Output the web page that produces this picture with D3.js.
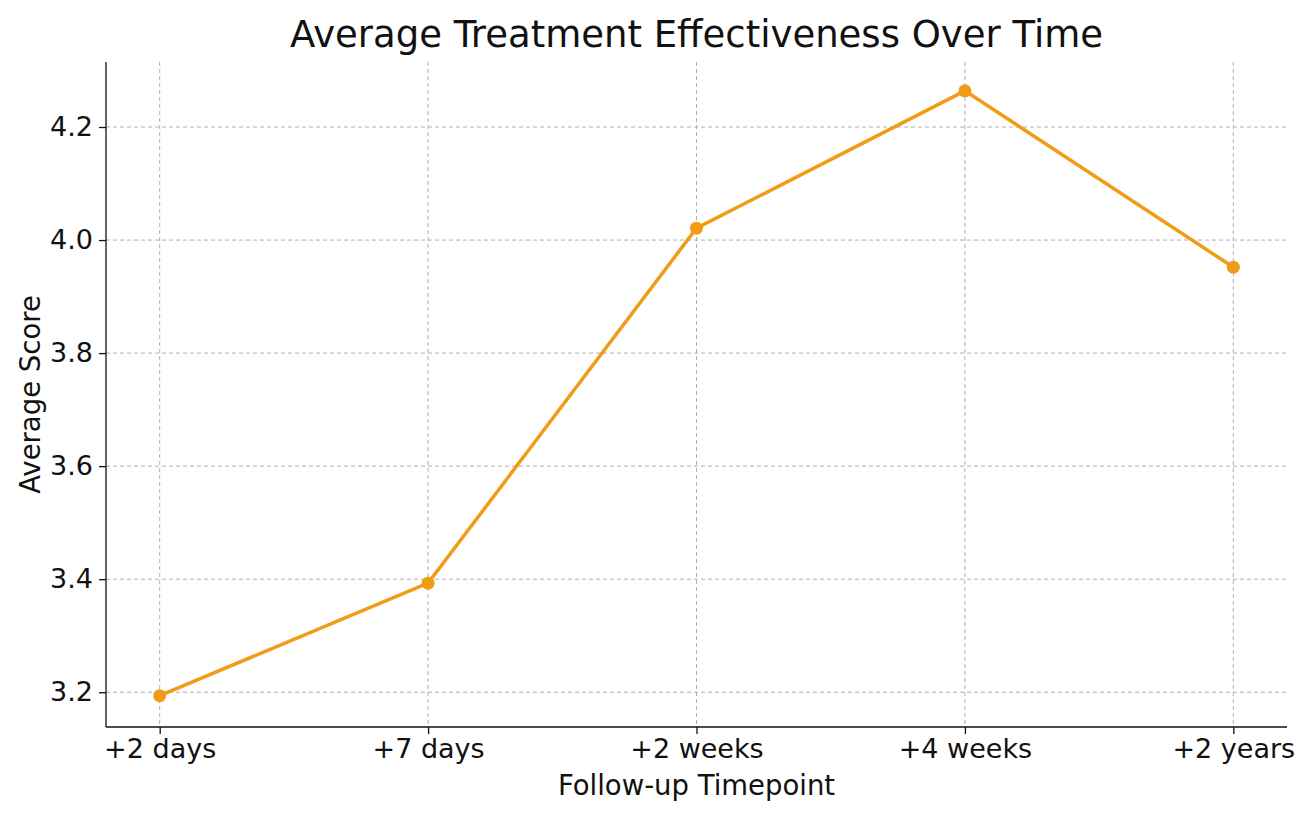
<!DOCTYPE html>
<html><head><meta charset="utf-8">
<script src="https://cdn.jsdelivr.net/npm/d3@7"></script>
<style>body{margin:0;background:#fff}svg{font-family:"DejaVu Sans",sans-serif}</style>
</head><body><svg width="1308" height="816"></svg>
<script>
const categories=["+2 days","+7 days","+2 weeks","+4 weeks","+2 years"];
const values=[3.194,3.393,4.021,4.264,3.952];
const yTicks=[3.2,3.4,3.6,3.8,4.0,4.2];
const svg=d3.select("svg");
const L=106,R=1287,T=62,B=727;
const x=d3.scalePoint().domain(categories).range([L,R]).padding(0.2);
const y=d3.scaleLinear().domain([3.1385,4.315]).range([B,T]);
const g=svg.append("g");
g.selectAll(".gx").data(categories).join("line").attr("x1",d=>x(d)).attr("x2",d=>x(d)).attr("y1",T).attr("y2",B)
 .attr("stroke","#b0b0b0").attr("stroke-dasharray","4,3").attr("stroke-width",1);
g.selectAll(".gy").data(yTicks).join("line").attr("y1",d=>y(d)).attr("y2",d=>y(d)).attr("x1",L).attr("x2",R)
 .attr("stroke","#b0b0b0").attr("stroke-dasharray","4,3").attr("stroke-width",1);
const xa=svg.append("g").attr("transform",`translate(0,${B})`).call(d3.axisBottom(x).tickSizeOuter(0).tickSize(7).tickPadding(5));
const ya=svg.append("g").attr("transform",`translate(${L},0)`).call(d3.axisLeft(y).tickValues(yTicks).tickFormat(d3.format(".1f")).tickSizeOuter(0).tickSize(7).tickPadding(6));
[xa,ya].forEach(a=>{a.selectAll("text").attr("font-size",27).attr("fill","#111").attr("font-family","DejaVu Sans");a.selectAll("line,path").attr("stroke","#111").attr("stroke-width",1.3);});
xa.select(".domain").attr("d",`M${L},0H${R}`);
ya.select(".domain").attr("d",`M0,${T}V${B}`);
const line=d3.line().x((d,i)=>x(categories[i])).y(d=>y(d));
svg.append("path").datum(values).attr("d",line).attr("fill","none").attr("stroke","#f09c16").attr("stroke-width",3.5);
svg.selectAll(".pt").data(values).join("circle").attr("cx",(d,i)=>x(categories[i])).attr("cy",d=>y(d)).attr("r",6.5).attr("fill","#f09c16");
svg.append("text").attr("x",(L+R)/2).attr("y",47).attr("text-anchor","middle").attr("font-size",37).attr("fill","#111").text("Average Treatment Effectiveness Over Time");
svg.append("text").attr("x",(L+R)/2).attr("y",795).attr("text-anchor","middle").attr("font-size",27.5).attr("fill","#111").text("Follow-up Timepoint");
svg.append("text").attr("transform",`translate(40,${(T+B)/2}) rotate(-90)`).attr("text-anchor","middle").attr("font-size",27.5).attr("fill","#111").text("Average Score");
</script></body></html>
